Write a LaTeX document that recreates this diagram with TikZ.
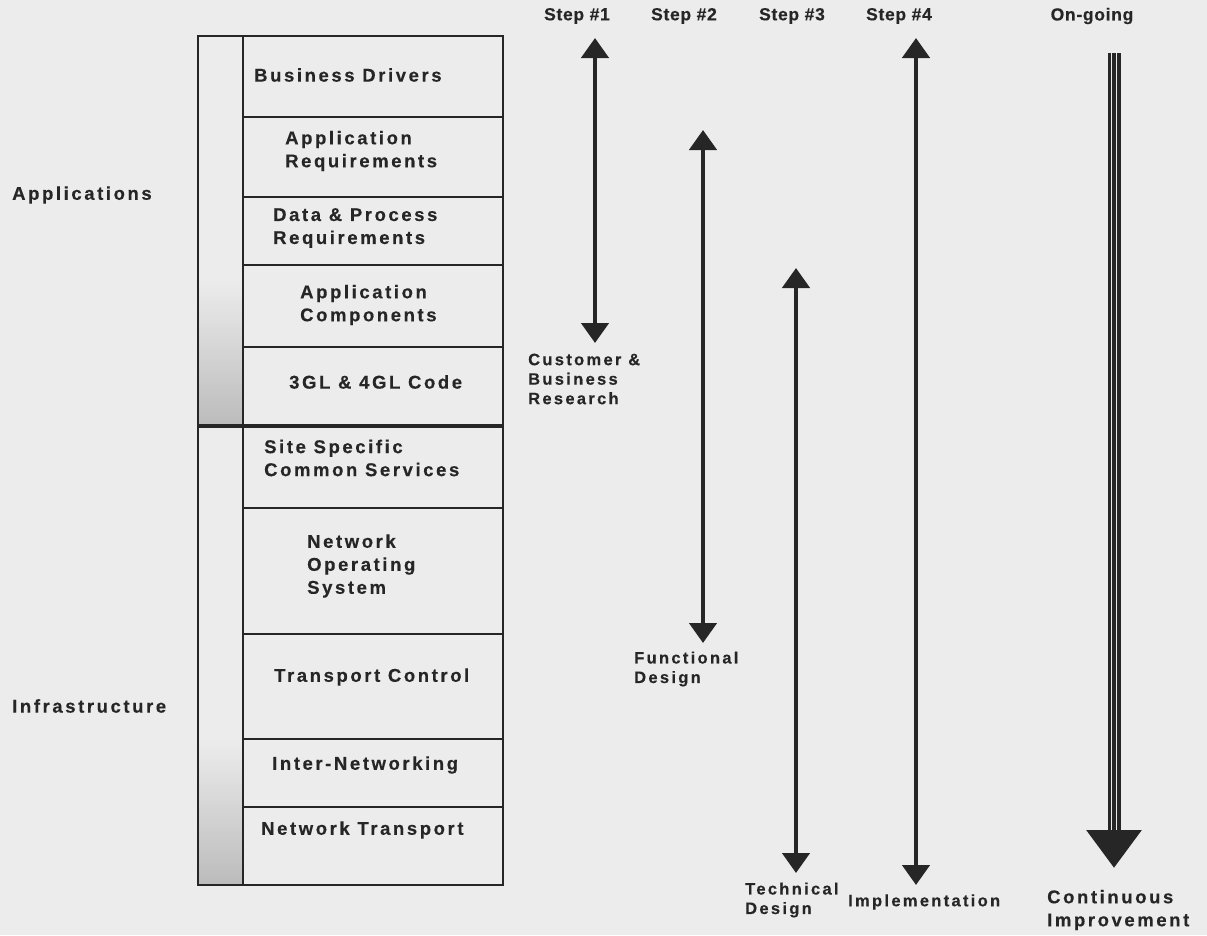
\documentclass[tikz,border=0pt]{standalone}
\usepackage{fontspec}
\setmainfont{Liberation Sans}
\newfontfamily\layerfont[LetterSpace=14,BoldFeatures={FakeBold=0.3}]{Liberation Sans}
\newfontfamily\stepfont[LetterSpace=4,BoldFeatures={FakeBold=0.3}]{Liberation Sans}
\usetikzlibrary{arrows.meta}

\definecolor{paper}{RGB}{236,236,236}
\definecolor{ink}{RGB}{38,38,38}

\tikzset{
  rule/.style={draw=ink, line width=2pt},
  layer/.style={font=\layerfont\bfseries\fontsize{18.5}{23}\selectfont, text=ink, align=left, inner sep=0pt, anchor=west},
  phase/.style={font=\layerfont\bfseries\fontsize{16.5}{19.5}\selectfont, text=ink, align=left, inner sep=0pt, anchor=west},
  steplbl/.style={font=\stepfont\bfseries\fontsize{17.5}{21}\selectfont, text=ink, inner sep=0pt},
  steparrow/.style={draw=ink, line width=4.5pt, {Triangle[width=27pt,length=20pt]}-{Triangle[width=27pt,length=20pt]}},
  ongoing/.style={draw=ink, line width=13pt, -{Triangle[width=53pt,length=38pt]}},
}

\begin{document}
\begin{tikzpicture}[x=1pt,y=-1pt]
    \useasboundingbox (0,0) rectangle (1207,935);
    \fill[paper] (0,0) rectangle (1207,935);

    % Left column shading
    \shade[top color=paper, bottom color=gray!45!paper] (198,280) rectangle (243,426);
    \shade[top color=paper, bottom color=gray!45!paper] (198,740) rectangle (243,885);

    % Layer stack
    \draw[rule] (198,36) rectangle (243,885);
    \draw[rule] (243,36) rectangle (503,885);
    \foreach \y in {117,197,265,347,508,739,807}
        \draw[rule] (243,\y) -- (503,\y);
    \draw[rule, line width=3.5pt] (198,426) -- (503,426);
    \draw[rule, line width=2.8pt] (243,634) -- (503,634);

    % Layer labels
    \node[layer] (drivers) at (254,75) {Business Drivers};
    \node[layer] (appreq) at (285,151) {Application\\Requirements};
    \node[layer] (datareq) at (273,228) {Data \& Process\\Requirements};
    \node[layer] (appcomp) at (300,305) {Application\\Components};
    \node[layer] (code) at (289,382) {3GL \& 4GL Code};
    \node[layer] (sitesvc) at (264,458) {Site Specific\\Common Services};
    \node[layer] (netos) at (307,566) {Network\\Operating\\System};
    \node[layer] (transctl) at (274,677) {Transport Control};
    \node[layer] (internet) at (272,765) {Inter-Networking};
    \node[layer] (nettrans) at (261,830) {Network Transport};

    % Side labels
    \node[layer] (apps) at (12,195) {Applications};
    \node[layer] (infra) at (12,706) {Infrastructure};

    % Step headings
    \node[steplbl] (step1) at (577,16) {Step \#1};
    \node[steplbl] (step2) at (684,16) {Step \#2};
    \node[steplbl] (step3) at (792,16) {Step \#3};
    \node[steplbl] (step4) at (899,16) {Step \#4};
    \node[steplbl] (ongo) at (1092,16) {On-going};

    % Arrow end points
    \coordinate (s1top) at (595,38);
    \coordinate (s1bot) at (595,343);
    \coordinate (s2top) at (703,130);
    \coordinate (s2bot) at (703,643);
    \coordinate (s3top) at (796,268);
    \coordinate (s3bot) at (796,873);
    \coordinate (s4top) at (916,38);
    \coordinate (s4bot) at (916,885);
    \coordinate (ogtop) at (1114,53);
    \coordinate (ogbot) at (1114,868);

    % Step arrows
    \draw[steparrow] (s1top) -- (s1bot);
    \draw[steparrow] (s2top) -- (s2bot);
    \draw[steparrow] (s3top) -- (s3bot);
    \draw[steparrow] (s4top) -- (s4bot);

    % On-going arrow
    \draw[ongoing] (ogtop) -- (ogbot);
    \draw[paper, line width=1.4pt, shorten >=38pt] ([xshift=-2.6pt]ogtop) -- ([xshift=-2.6pt]ogbot);
    \draw[paper, line width=1.4pt, shorten >=38pt] ([xshift=2.6pt]ogtop) -- ([xshift=2.6pt]ogbot);

    % Phase labels
    \node[phase] (research) at (528,379) {Customer \&\\Business\\Research};
    \node[phase] (funcdes) at (634,669) {Functional\\Design};
    \node[phase] (techdes) at (745,900) {Technical\\Design};
    \node[phase] (impl) at (848,902) {Implementation};
    \node[layer] (contimp) at (1047,910) {Continuous\\Improvement};
\end{tikzpicture}
\end{document}
